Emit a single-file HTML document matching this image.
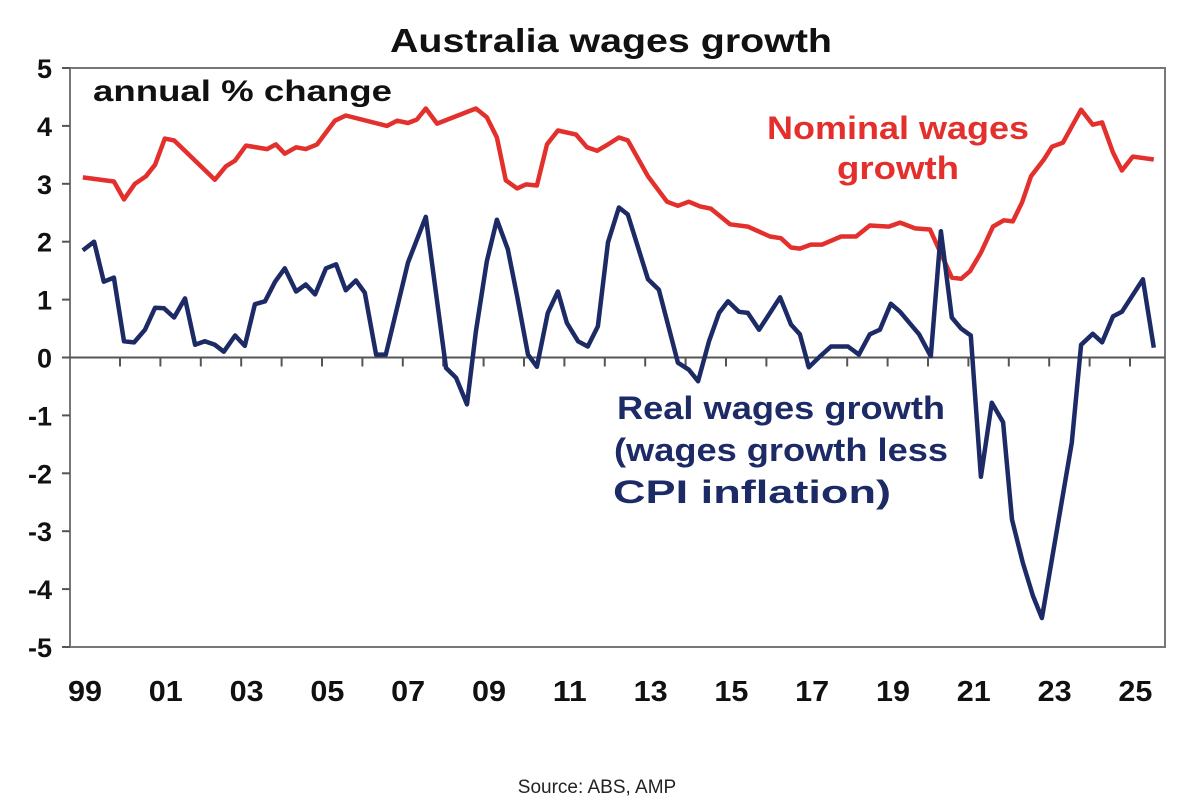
<!DOCTYPE html>
<html><head><meta charset="utf-8"><style>
html,body{margin:0;padding:0;background:#fff;}
svg{display:block;font-family:"Liberation Sans",Arial,sans-serif;}
</style></head><body>
<svg id="chart" width="1182" height="812" viewBox="0 0 1182 812" xmlns="http://www.w3.org/2000/svg">
<rect width="1182" height="812" fill="#fff"/>
<text x="611" y="52" text-anchor="middle" font-size="33" font-weight="bold" fill="#111" textLength="442" lengthAdjust="spacingAndGlyphs">Australia wages growth</text>
<g id="axes"></g>
<g id="series"></g>
<text x="93" y="101" font-size="30" font-weight="bold" fill="#111" textLength="299" lengthAdjust="spacingAndGlyphs">annual % change</text>
<text text-anchor="middle" font-size="32" font-weight="bold" fill="#e3302c"><tspan x="898" y="139" textLength="262" lengthAdjust="spacingAndGlyphs">Nominal wages</tspan><tspan x="898" y="179" textLength="122" lengthAdjust="spacingAndGlyphs">growth</tspan></text>
<text text-anchor="middle" font-size="32" font-weight="bold" fill="#1c2a66"><tspan x="781" y="419" textLength="328" lengthAdjust="spacingAndGlyphs">Real wages growth</tspan><tspan x="781" y="461" textLength="334" lengthAdjust="spacingAndGlyphs">(wages growth less</tspan><tspan x="752" y="503" textLength="278" lengthAdjust="spacingAndGlyphs">CPI inflation)</tspan></text>
<text x="597" y="793" text-anchor="middle" font-size="19" fill="#222">Source: ABS, AMP</text>
</svg>
<script>
const nominalDates=[1999.07,1999.84,2000.09,2000.36,2000.63,2000.86,2001.10,2001.33,2002.34,2002.61,2002.84,2003.11,2003.63,2003.85,2004.07,2004.35,2004.59,2004.87,2005.31,2005.58,2006.60,2006.85,2007.12,2007.34,2007.56,2007.84,2008.80,2009.07,2009.32,2009.54,2009.82,2010.04,2010.31,2010.56,2010.83,2011.28,2011.55,2011.80,2012.07,2012.34,2012.56,2013.06,2013.53,2013.80,2014.07,2014.35,2014.62,2015.09,2015.53,2016.08,2016.35,2016.60,2016.82,2017.09,2017.37,2017.84,2018.21,2018.55,2019.02,2019.30,2019.67,2020.04,2020.58,2020.81,2021.03,2021.30,2021.60,2021.87,2022.09,2022.32,2022.54,2022.86,2023.06,2023.33,2023.78,2024.07,2024.30,2024.57,2024.79,2025.06,2025.58];
const nominalValues=[3.11,3.04,2.73,3.0,3.13,3.33,3.78,3.75,3.07,3.3,3.4,3.66,3.6,3.68,3.52,3.63,3.6,3.68,4.09,4.18,4.0,4.09,4.05,4.11,4.3,4.04,4.3,4.15,3.8,3.06,2.92,2.99,2.97,3.68,3.92,3.85,3.63,3.57,3.68,3.8,3.75,3.13,2.69,2.62,2.69,2.61,2.57,2.3,2.26,2.09,2.06,1.9,1.88,1.95,1.95,2.09,2.09,2.28,2.26,2.33,2.23,2.21,1.38,1.36,1.49,1.81,2.26,2.37,2.35,2.68,3.13,3.42,3.64,3.71,4.28,4.02,4.06,3.54,3.23,3.47,3.42];
const realDates=[1999.07,1999.35,1999.59,1999.84,2000.09,2000.34,2000.61,2000.86,2001.08,2001.33,2001.60,2001.85,2002.09,2002.34,2002.56,2002.84,2003.08,2003.33,2003.58,2003.83,2004.07,2004.35,2004.59,2004.82,2005.09,2005.34,2005.58,2005.83,2006.05,2006.33,2006.57,2007.12,2007.56,2008.06,2008.31,2008.58,2008.80,2009.07,2009.32,2009.59,2009.82,2010.09,2010.31,2010.58,2010.83,2011.05,2011.33,2011.57,2011.82,2012.07,2012.34,2012.56,2013.06,2013.33,2013.80,2014.07,2014.30,2014.57,2014.82,2015.04,2015.31,2015.53,2015.81,2016.33,2016.60,2016.82,2017.04,2017.32,2017.59,2018.01,2018.28,2018.55,2018.80,2019.07,2019.30,2019.77,2020.06,2020.31,2020.58,2020.81,2021.05,2021.30,2021.57,2021.85,2022.07,2022.34,2022.59,2022.81,2023.55,2023.78,2024.07,2024.30,2024.57,2024.79,2025.31,2025.58];
const realValues=[1.85,2.0,1.31,1.38,0.28,0.26,0.48,0.86,0.85,0.69,1.02,0.22,0.28,0.22,0.1,0.38,0.2,0.92,0.97,1.31,1.54,1.14,1.26,1.09,1.54,1.61,1.16,1.33,1.12,0.05,0.05,1.64,2.43,-0.18,-0.35,-0.81,0.45,1.66,2.38,1.87,1.06,0.05,-0.16,0.77,1.14,0.6,0.28,0.19,0.54,1.99,2.59,2.47,1.35,1.17,-0.09,-0.21,-0.41,0.28,0.77,0.97,0.79,0.77,0.48,1.04,0.57,0.4,-0.17,0.02,0.19,0.19,0.05,0.4,0.48,0.93,0.79,0.4,0.02,2.18,0.69,0.5,0.38,-2.06,-0.78,-1.12,-2.8,-3.55,-4.12,-4.5,-1.47,0.22,0.41,0.26,0.71,0.79,1.35,0.17];
const yTicks=[5,4,3,2,1,0,-1,-2,-3,-4,-5];
const xLabels=["99","01","03","05","07","09","11","13","15","17","19","21","23","25"];
const xLabelYears=[1999,2001,2003,2005,2007,2009,2011,2013,2015,2017,2019,2021,2023,2025];

const NS="http://www.w3.org/2000/svg";
const L=70,R=1165,T=68,B=647;
function xs(yr){return 80+(yr-1999)*40.4;}
function ys(v){return T+(5-v)*(B-T)/10;}
function mk(tag,attrs,parent){const e=document.createElementNS(NS,tag);for(const k in attrs)e.setAttribute(k,attrs[k]);parent.appendChild(e);return e;}
const axes=document.getElementById('axes');
const frame=mk('rect',{x:L,y:T,width:R-L,height:B-T,fill:'none',stroke:'#777','stroke-width':2},axes);


yTicks.forEach(v=>{
  const t=mk('line',{x1:L-8,x2:L,y1:ys(v),y2:ys(v),stroke:'#555','stroke-width':2},axes);
  
  
  const lb=mk('text',{x:52,y:ys(v)+10,'text-anchor':'end','font-size':27,'font-weight':'bold',fill:'#111'},axes);
  lb.textContent=String(v);
  
  
});
const zl=mk('line',{x1:L,x2:R,y1:ys(0),y2:ys(0),stroke:'#555','stroke-width':2},axes);


for(let y=1999;y<=2025;y++){
  const x=xs(y)+40;
  if(x>=R-2) continue;
  const t=mk('line',{x1:x,x2:x,y1:ys(0),y2:ys(0)+9,stroke:'#555','stroke-width':2},axes);
  
  
}
xLabels.forEach((s,i)=>{
  const lb=mk('text',{x:xs(xLabelYears[i])+5,y:701,'text-anchor':'middle','font-size':29,'font-weight':'bold',fill:'#111',textLength:34,lengthAdjust:'spacingAndGlyphs'},axes);
  lb.textContent=s;
  
  
});
const ser=document.getElementById('series');
function path(dates,vals){return dates.map((d,i)=>(i?'L':'M')+xs(d).toFixed(1)+' '+ys(vals[i]).toFixed(1)).join(' ');}
const nl=mk('path',{d:path(nominalDates,nominalValues),fill:'none',stroke:'#e3302c','stroke-width':4.5,'stroke-linejoin':'round'},ser);


const rl=mk('path',{d:path(realDates,realValues),fill:'none',stroke:'#1c2a66','stroke-width':4.5,'stroke-linejoin':'round'},ser);


</script>
</body></html>
